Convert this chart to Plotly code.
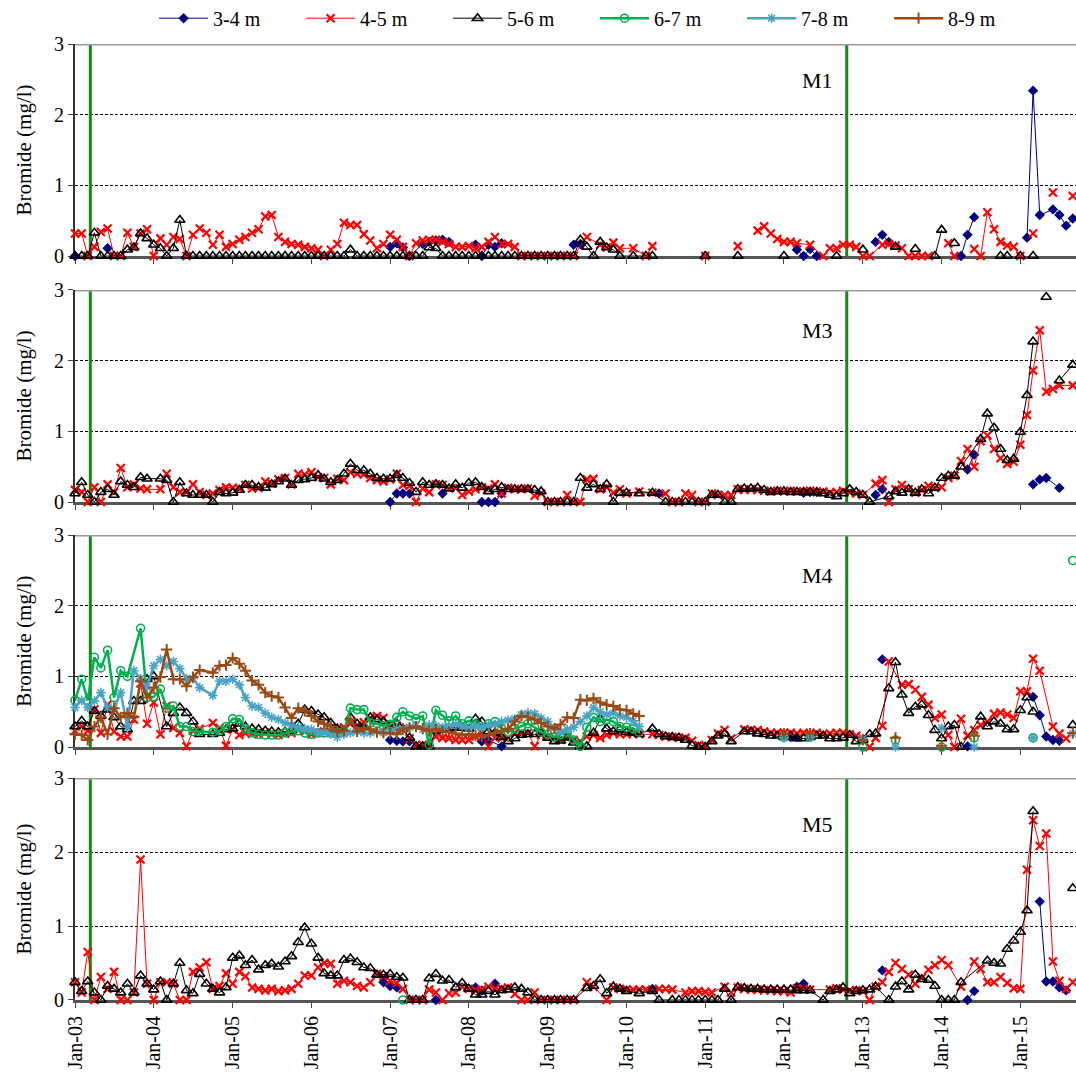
import pandas as pd
import plotly.graph_objects as go

_ = None
FIRST_MONTH = "2003-01-01"
X_END = "2015-09-16"

# Each series is a list of runs: (month offset from Jan 2003, monthly values).
# Values inside a run are joined by a line; separate runs are not.

# ---------------- M1 ----------------
m1_34 = [
    (0, [0]), (5, [0.11]),
    (48, [0.13, 0.18, 0.12, 0, _, 0.17, 0.20, 0.22, 0.23, 0.20]),
    (61, [0.16, 0, 0.16, 0.13, 0.18]),
    (76, [0.16, 0.17]),
    (110, [0.09, 0, 0.10, 0]),
    (122, [0.20, 0.30, 0.20]),
    (135, [0, 0.30, 0.55]),
    (145, [0.26, 2.34, 0.58, _, 0.66, 0.58, 0.43, 0.53]),
]
m1_45 = [
    (0, [0.32, 0.32, 0, 0.13, 0.34, 0.39, 0, 0, 0.33, 0.13, 0.32, 0.38,
         0, 0.25, 0.16, 0.27, 0.24, 0, 0.30, 0.39, 0.33, 0.16, 0.30, 0.13,
         0.17, 0.23, 0.27, 0.33, 0.38, 0.56, 0.58, 0.27, 0.20, 0.17, 0.16, 0.13,
         0.11, 0.09, 0, 0.09, 0.17, 0.47, 0.44, 0.44, 0.31, 0.22, 0.11, 0.17,
         0.30, 0.23, 0.13, 0, 0.18, 0.22, 0.23, 0.23, 0.20, 0.17, 0.13, 0.13,
         0.14, 0.11, 0.13, 0.20, 0.27, 0.17, 0.17, 0.13, 0, 0, 0, 0,
         0, 0, 0, 0, 0, _, 0.27, _, 0.16, 0.12, 0.19, 0.11,
         _, 0.11, _, 0, 0.14]),
    (96, [0]), (101, [0.14]),
    (104, [0.36, 0.42, 0.32, 0.24, 0.20, 0.20, 0.18, _, 0.16, _, 0, 0.11,
           0.11, 0.16, 0.16, 0.13, 0, 0, _, 0.16, 0.17, 0.15, 0.11, 0, 0, 0, 0]),
    (133, [0.18, 0]),
    (137, [0.10, 0, 0.62, 0.38, 0.20, 0.15, 0.13, 0]),
    (146, [0.32]), (149, [0.90]), (152, [0.85]),
]
m1_56 = [
    (0, [0, 0, 0, 0.33, 0, 0, 0, 0, 0.09, 0.12, 0.32, 0.25,
         0.16, 0.11, 0, 0.11, 0.51, 0, 0, 0, 0, 0, 0, 0,
         0, 0, 0, 0, 0, 0, 0, 0, 0, 0, 0, 0,
         0, 0, 0, 0, 0, 0, 0.09, 0, 0, 0, 0, 0,
         0, 0, 0, 0, 0, 0, 0.12, 0.11, 0, 0, 0, 0,
         0, 0, 0, 0, 0, 0, 0, 0, 0, 0, 0, 0,
         0, 0, 0, 0, 0, 0.23, 0.13, 0, 0.20, 0.12, 0.09, 0,
         _, 0, _, 0, 0]),
    (96, [0]), (101, [0]), (108, [0]), (116, [0]), (120, [0.09]),
    (125, [0.13]), (128, [0.10]), (131, [0, 0.37]), (134, [0.18]),
    (141, [0, 0]), (144, [0]), (146, [0]),
]

# ---------------- M3 ----------------
m3_34 = [
    (48, [0, 0.12, 0.12, 0.12]), (56, [0.12]), (62, [0, 0, 0, 0.12]),
    (89, [0.12]), (111, [0.13, 0.14, 0.14]), (122, [0.10, 0.18]),
    (136, [0.46, 0.67]), (146, [0.25, 0.32, 0.34, _, 0.20]),
]
m3_45 = [
    (0, [0.17, 0.14, 0, 0.21, 0, 0.25, 0.14, 0.48, 0.21, 0.25, 0.19, 0.18,
         _, 0.18, 0.40, 0.21, 0.14, 0.14, 0.25, 0.14, 0.10, 0.12, 0.17, 0.21,
         0.20, 0.19, 0.24, 0.19, 0.20, 0.29, 0.26, 0.32, 0.34, 0.25, 0.40, 0.39,
         0.42, 0.35, 0.34, 0.25, 0.33, 0.31, 0.42, 0.40, 0.39, 0.34, 0.31, 0.29,
         0.32, 0.40, 0.24, 0.23, 0, 0.19, 0.14, 0.25, 0.24, 0.19, 0.20, 0.10,
         0.15, 0.18, 0.21, 0.19, 0.25, 0.12, 0.20, 0.18, 0.18, 0.19, 0.09, 0.12,
         0, 0, 0, 0.10, 0, 0, 0.32, 0.33, 0.18, 0.21, 0.13, 0.18,
         0.12, _, 0.15, _, 0.13, _, 0.12, 0, 0, 0.12, 0.10, 0,
         0, 0.12, 0.10, 0.10, 0.10, 0.18, 0.17, 0.18, 0.17, 0.16, 0.15, 0.16,
         0.15, 0.16, 0.15, 0.15, 0.16, 0.14, 0.15, 0.13, 0.14, 0.16, 0.14, 0.12,
         0.10, _, 0.26, 0.31, 0, 0.18, 0.24, 0.18, 0.13, 0.17, 0.23, 0.20,
         0.21, 0.34, 0.37, 0.58, 0.75, 0.50, 0.86, 0.94, 0.75, 0.62, 0.54, 0.57,
         0.81, 1.23, 1.86, 2.43, 1.56, 1.60, 1.65, _, 1.65]),
]
m3_56 = [
    (0, [0.12, 0.28, 0.10, 0, 0.14, 0.18, 0.10, 0.29, 0.24, 0.21, 0.35, 0.33,
         _, 0.33, 0.31, 0, 0.28, 0.12, 0.10, 0.10, 0.10, 0, 0.14, 0.12,
         0.13, 0.17, 0.24, 0.24, 0.21, 0.20, 0.25, 0.29, 0.33, 0.24, 0.31, 0.32,
         0.34, 0.38, 0.33, 0.28, 0.31, 0.40, 0.54, 0.45, 0.45, 0.40, 0.34, 0.33,
         0.33, 0.38, 0.34, 0.27, 0.14, 0.28, 0.24, 0.25, 0.24, 0.19, 0.25, 0.20,
         0.27, 0.28, 0.21, 0.15, 0.18, 0.21, 0.18, 0.18, 0.18, 0.18, 0.17, 0.15,
         0, 0, 0, 0, 0, 0.34, 0.20, 0.25, 0.18, 0.25, 0, 0.13,
         0.13, _, 0.12, _, 0.13, _, 0, 0, 0, 0, 0, 0,
         0, 0.10, 0.10, 0, 0, 0.18, 0.19, 0.19, 0.20, 0.17, 0.14, 0.15,
         0.15, 0.14, 0.14, 0.14, 0.14, 0.14, 0.12, 0.10, 0.08, 0.12, 0.18, 0.14,
         0.10, 0, _, _, 0.08, 0.15, 0.13, 0.18, 0.13, 0.18, 0.12, 0.20,
         0.34, 0.37, 0.37, 0.50, _, _, 0.89, 1.25, 1.05, 0.75, 0.59, 0.61,
         0.99, 1.51, 2.27]),
    (148, [2.90]),
    (150, [1.72, _, 1.94]),
]

# ---------------- M4 ----------------
m4_34 = [
    (48, [0.10, 0.09, 0.08, 0.08]), (62, [0.08, 0.10, _, 0.01]),
    (109, [0.14, 0.14]), (123, [1.24]), (136, [0.01]),
    (146, [0.71, 0.45, 0.15, 0.10, 0.09]),
]
m4_45 = [
    (0, [0.23, 0.29, 0.23, 0.53, 0.20, 0.60, 0.22, 0.15, 0.15, 0.39, 0.90, 0.33,
         0.63, 0.18, 0.58, 0.27, 0.20, 0.01, 0.23, 0.26, _, 0.34, 0.27, 0.02,
         0.25, 0.17, 0.20, 0.19, 0.18, 0.20, 0.18, 0.17, 0.19, 0.20, 0.24, 0.22,
         0.18, 0.20, 0.22, 0.21, 0.25, 0.28, 0.33, 0.30, 0.35, 0.41, 0.44, 0.41,
         0.32, 0.30, 0.25, 0.12, 0.03, 0.03, 0.03, 0.15, 0.13, 0.12, 0.10, 0.10,
         0.10, 0.15, 0.20, 0.01, 0.13, 0.13, 0.13, 0.20, 0.20, 0.20, 0.01, 0.17,
         0.15, 0.13, 0.10, 0.13, 0.10, 0.08, 0.15, 0.17, 0.13, 0.17, 0.20, 0.18,
         0.18, 0.20, 0.18, _, 0.18, 0.17, 0.15, 0.14, 0.13, 0.13, 0.09, 0.03,
         0.02, 0.10, 0.19, 0.24, 0.12, _, 0.25, 0.24, 0.24, 0.22, 0.20, 0.20,
         0.20, 0.20, 0.19, 0.20, 0.19, 0.20, 0.18, 0.19, 0.20, 0.20, 0.18, 0.16,
         0.12, 0, 0.13, 0.30, 1.21, _, 0.88, 0.89, 0.81, 0.71, 0.60, 0.41,
         0.46, 0.17, 0, 0.40, 0.16, 0.24, 0.31, 0.36, 0.47, 0.49, 0.46, 0.41,
         0.79, 0.79, 1.25, 1.08, _, 0.29, 0.19, 0.12]),
]
m4_56 = [
    (0, [0.29, 0.37, 0.29, 0.51, 0.44, 0.53, 0.42, 0.29, 0.25, 0.65, 0.65, 0.96,
         1.00, _, 0.29, 0.48, 0.56, 0.48, 0.36, 0.18, _, 0.18, 0.20, 0.25,
         0.26, 0.33, 0.29, 0.26, 0.25, 0.23, 0.22, 0.21, 0.22, 0.23, 0.33, 0.53,
         0.51, 0.46, 0.42, 0.34, 0.26, 0.22, 0.42, 0.33, 0.27, 0.42, 0.39, 0.36,
         0.29, 0.33, 0.26, 0.13, 0.01, 0.01, 0.01, 0.23, 0.25, 0.26, 0.28, 0.27,
         0.26, 0.40, 0.36, 0.22, 0.20, 0.14, 0.08, 0.12, 0.17, 0.18, 0.18, 0.20,
         0.13, 0.08, 0.09, 0.13, 0.06, 0.01, 0.01, 0.20, 0.40, 0.26, 0.22, 0.25,
         0.21, 0.20, 0.18, _, 0.26, 0.18, 0.15, 0.14, 0.13, 0.10, 0.02, 0,
         0, 0.08, 0.16, 0.19, 0.08, _, 0.22, 0.22, 0.19, 0.18, 0.16, 0.16,
         0.14, 0.16, 0.12, 0.12, 0.14, 0.16, 0.16, 0.12, 0.12, 0.13, 0.17, 0.08,
         0.10, 0.18, 0.19, _, 0.83, 1.20, 0.74, 0.48, 0.57, 0.60, 0.45, 0.24,
         0.12, 0.29, 0.31, 0, _, _, 0.43, 0.29, 0.36, 0.33, 0.25, 0.25,
         0.52, 0.70, 0.50]),
    (152, [0.31]),
]
m4_67 = [
    (0, [0.66, 0.96, 0.66, 1.27, 1.12, 1.37, 0.70, 1.08, 1.00, _, 1.68, 0.70,
         0.71, 0.82, 0.55, 0.58, 0.29, 0.29, 0.22, 0.22, _, 0.21, 0.23, 0.29,
         0.40, 0.39, 0.26, 0.20, 0.18, 0.17, 0.17, 0.17, 0.20, 0.22, 0.23, 0.20,
         0.18, 0.20, 0.20, 0.20, 0.21, 0.22, 0.55, 0.53, 0.53, 0.34, 0.33, 0.30,
         0.32, 0.42, 0.50, 0.44, 0.40, 0.44, 0.03, 0.52, 0.45, 0.37, 0.44, 0.33,
         0.37, 0.32, 0.28, 0.33, 0.36, 0.26, 0.21, 0.26, 0.29, 0.33, 0.28, 0.21,
         0.18, 0.14, 0.18, 0.21, 0.10, 0.01, 0.28, 0.42, 0.36, 0.39, 0.36, 0.29,
         0.28, 0.26, 0.21]),
    (108, [0.14]), (112, [0.14]), (120, [0]), (125, [0.10]), (132, [0]),
    (137, [0.13]), (146, [0.13]), (152, [2.64]),
]
m4_78 = [
    (0, [0.56, 0.66, 0.56, 0.65, 0.77, 0.56, 0.55, 0.77, 0.28, 1.08, 0.97, 0.85,
         1.15, 1.24, 1.15, 1.21, 1.11, 0.97, 0.97, 0.84, _, 0.73, 0.93, 0.93,
         0.96, 0.88, 0.70, 0.58, 0.56, 0.48, 0.42, 0.39, 0.34, 0.31, 0.28, 0.26,
         0.25, 0.20, 0.20, 0.18, 0.14, 0.18, 0.20, 0.22, 0.20, 0.20, 0.22, 0.20,
         0.22, 0.26, 0.26, 0.28, 0.30, 0.25, 0.31, 0.30, 0.28, 0.30, 0.32, 0.29,
         0.27, 0.30, 0.28, 0.31, 0.32, 0.36, 0.38, 0.40, 0.46, 0.48, 0.47, 0.41,
         0.36, 0.27, 0.21, 0.25, 0.28, 0.36, 0.44, 0.56, 0.50, 0.46, 0.48, 0.44,
         0.42, 0.37, 0.29]),
    (108, [0.13]), (112, [0.14]), (120, [0.12]), (125, [0]), (132, [0.27]),
    (137, [0]), (146, [0.13]), (152, [0.19]),
]
m4_89 = [
    (0, [0.18, 0.17, 0.10, 0.29, 0.42, 0.18, 0.55, 0.42, 0.48, 0.42, 0.93, 0.70,
         0.84, 0.99, 1.38, 0.96, 0.96, 0.86, 0.99, 1.09, _, 1.05, 1.15, 1.16,
         1.26, 1.18, 1.08, 0.94, 0.88, 0.77, 0.72, 0.70, 0.56, 0.41, 0.55, 0.51,
         0.44, 0.36, 0.33, 0.29, 0.22, 0.23, 0.39, 0.22, 0.27, 0.25, 0.21, 0.20,
         0.20, 0.18, 0.25, 0.27, 0.29, 0.26, 0.23, 0.25, 0.22, 0.21, 0.19, 0.17,
         0.18, 0.16, 0.15, 0.17, 0.20, 0.23, 0.26, 0.36, 0.44, 0.42, 0.39, 0.34,
         0.29, 0.26, 0.32, 0.42, 0.41, 0.67, 0.66, 0.69, 0.63, 0.60, 0.58, 0.53,
         0.52, 0.47, 0.44]),
    (108, [0.19]), (112, [0.19]), (120, [0.10]), (125, [0.13]), (132, [0.02]),
    (137, [0.16]), (152, [0.20]),
]

# ---------------- M5 ----------------
m5_34 = [
    (47, [0.24, 0.19, 0.17]), (55, [0]), (61, [0.17, 0.13, _, 0.22]),
    (88, [0.15]), (110, [0.18, 0.22]), (123, [0.40]), (136, [0, 0.12]),
    (147, [1.33, 0.25, 0.25, 0.17, 0.13]),
]
m5_45 = [
    (0, [0.24, 0.10, 0.65, 0, 0.31, 0.15, 0.38, 0, 0, 0.10, 1.90, 0.22,
         0, 0.24, 0.24, 0.22, 0, 0, 0.38, 0.44, 0.51, 0.15, 0.19, 0.36,
         0.22, 0.38, 0.32, 0.17, 0.15, 0.13, 0.15, 0.12, 0.13, 0.15, 0.22, 0.33,
         0.33, 0.44, 0.50, 0.49, 0.22, 0.26, 0.24, 0.19, 0.17, 0.24, 0.35, 0.32,
         0.26, 0.23, 0.15, 0, 0, 0, 0.14, 0.10, 0, 0.09, 0.10, 0.18,
         0.15, 0.13, 0.14, 0.18, 0.15, 0.16, 0.17, 0.08, 0, 0, 0.10, 0,
         0, 0, 0, 0, 0, _, 0.24, 0.18, _, 0, 0.17, 0.15,
         0.14, 0.14, 0.14, 0.14, _, 0.15, 0.15, 0.14, _, 0.10, 0.12, 0.12,
         0.11, 0.10, _, 0.18, 0.10, 0.17, 0.15, 0.14, 0.14, 0.13, 0.13, 0.12,
         0.12, 0.10, 0.16, 0.15, 0.14, _, _, 0.14, 0.16, 0.14, 0.13, 0.13,
         0.12, 0, 0.18, 0.24, 0.38, 0.50, 0.42, 0.34, 0.22, 0.30, 0.41, 0.47,
         0.54, 0.47, _, 0.18, _, 0.52, 0.42, 0.24, 0.24, 0.31, 0.23, 0.16,
         0.15, 1.76, 2.43, 2.08, 2.25, 0.52, 0.26, 0.15, 0.24]),
]
m5_56 = [
    (0, [0.24, 0.12, 0.25, 0.10, 0, 0.19, 0.15, 0.10, 0.22, 0.10, 0.33, 0.22,
         0.14, 0.25, 0, 0.22, 0.50, 0.13, 0.09, 0.35, 0.22, 0.15, 0.10, 0.17,
         0.57, 0.60, 0.47, 0.54, 0.41, 0.47, 0.49, 0.45, 0.52, 0.59, 0.78, 0.98,
         0.76, 0.57, 0.36, 0.33, 0.33, 0.54, 0.56, 0.51, 0.44, 0.43, 0.34, 0.34,
         0.35, 0.31, 0.30, 0, 0, 0, 0.29, 0.35, 0.26, 0.27, 0.17, 0.23,
         0.15, 0.07, 0.07, 0.12, 0.07, 0.13, 0.14, 0.17, 0.15, 0.10, 0, 0,
         0, 0, 0, 0, 0, _, 0.16, 0.19, 0.28, 0.09, 0.18, 0.15,
         0.12, _, 0.09, _, 0.12, 0, _, 0, 0, 0, 0, 0,
         0, 0, 0, 0.15, 0, 0.17, 0.16, 0.15, 0.15, 0.14, 0.14, 0.14,
         0.14, 0.14, 0.13, 0.13, 0.13, _, 0, 0.12, 0.14, 0.17, 0.09, 0.12,
         0.13, 0.14, 0.18, _, 0, 0.18, 0.25, 0.14, 0.34, 0.28, 0.27, 0.19,
         0, 0, 0, 0.24, _, _, _, 0.53, 0.50, 0.49, 0.69, 0.80,
         0.92, 1.21, 2.55]),
    (152, [1.51]),
]
m5_67 = [(50, [0])]

SERIES_NAMES = ["3-4 m", "4-5 m", "5-6 m", "6-7 m", "7-8 m", "8-9 m"]
PANEL_LABELS = ["M1", "M3", "M4", "M5"]
PANELS = [
    {"3-4 m": m1_34, "4-5 m": m1_45, "5-6 m": m1_56},
    {"3-4 m": m3_34, "4-5 m": m3_45, "5-6 m": m3_56},
    {"3-4 m": m4_34, "4-5 m": m4_45, "5-6 m": m4_56,
     "6-7 m": m4_67, "7-8 m": m4_78, "8-9 m": m4_89},
    {"3-4 m": m5_34, "4-5 m": m5_45, "5-6 m": m5_56, "6-7 m": m5_67},
]
LABEL_Y = [2.48, 2.42, 2.42, 2.37]
TRACER_DATES = ["2003-03-13", "2012-10-18"]

FONT = "Liberation Serif, Times New Roman, serif"
STYLE = {
    "3-4 m": dict(line=dict(color="#000080", width=1),
                  marker=dict(symbol="diamond", size=8, color="#000080",
                              line=dict(width=0))),
    "4-5 m": dict(line=dict(color="#ff0000", width=1),
                  marker=dict(symbol="x-thin", size=8, color="#ff0000",
                              line=dict(width=2.2, color="#ff0000"))),
    "5-6 m": dict(line=dict(color="#000000", width=1),
                  marker=dict(symbol="triangle-up-open", size=9, color="#000000",
                              line=dict(width=1.6, color="#000000"))),
    "6-7 m": dict(line=dict(color="#00b050", width=2.5),
                  marker=dict(symbol="circle-open", size=8, color="#00b050",
                              line=dict(width=1.6, color="#00b050"))),
    "7-8 m": dict(line=dict(color="#4aa3c4", width=2.5),
                  marker=dict(symbol="asterisk", size=8, color="#4aa3c4",
                              line=dict(width=1.6, color="#4aa3c4"))),
    "8-9 m": dict(line=dict(color="#9a4a14", width=2.5),
                  marker=dict(symbol="cross-thin", size=8, color="#9a4a14",
                              line=dict(width=2, color="#9a4a14"))),
}

base = pd.Timestamp(FIRST_MONTH)


def run_dates(start, n):
    return [base + pd.DateOffset(months=start + k) for k in range(n)]


# panel vertical extents (paper fractions)
DOMAINS = [(0.7782, 1.0), (0.5209, 0.7427), (0.2646, 0.4864), (0.0, 0.2322)]

fig = go.Figure()
shown = set()
for p, panel in enumerate(PANELS):
    ax = "" if p == 0 else str(p + 1)
    for rank, name in enumerate(SERIES_NAMES):
        if name not in panel:
            continue
        for start, vals in panel[name]:
            st = STYLE[name]
            fig.add_trace(go.Scatter(
                x=run_dates(start, len(vals)), y=vals,
                mode="lines+markers", connectgaps=True,
                name=name, legendgroup=name, legendrank=rank + 1,
                showlegend=name not in shown,
                line=st["line"], marker=st["marker"],
                cliponaxis=False,
                xaxis="x" + ax, yaxis="y" + ax,
            ))
            shown.add(name)

layout = dict(
    width=1076, height=1084,
    margin=dict(l=75, r=0, t=44, b=84, autoexpand=False),
    paper_bgcolor="white", plot_bgcolor="white",
    font=dict(family=FONT, size=20, color="black"),
    legend=dict(orientation="h", traceorder="normal",
                x=0.079, y=1.027, xanchor="left", yanchor="middle",
                entrywidth=83, entrywidthmode="pixels",
                font=dict(family=FONT, size=20), itemwidth=49,
                bgcolor="rgba(0,0,0,0)"),
    shapes=[], annotations=[],
)

for p in range(4):
    ax = "" if p == 0 else str(p + 1)
    lo, hi = DOMAINS[p]
    layout["xaxis" + ax] = dict(
        domain=[0, 1], anchor="y" + ax, type="date",
        range=[FIRST_MONTH, X_END],
        tick0=FIRST_MONTH, dtick="M12", tickformat="%b-%y",
        showticklabels=(p == 3), tickangle=-90,
        tickfont=dict(family=FONT, size=20),
        ticks="outside", ticklen=5, tickwidth=1.2, tickcolor="#444",
        showgrid=False, zeroline=False,
        showline=True, linecolor="#555555", linewidth=3,
        layer="below traces",
    )
    if p > 0:
        layout["xaxis" + ax]["matches"] = "x"
    layout["yaxis" + ax] = dict(
        domain=[lo, hi], anchor="x" + ax, range=[0, 3],
        tickvals=[0, 1, 2, 3], ticks="outside", ticklen=5, tickwidth=1.2,
        tickcolor="#444", tickfont=dict(family=FONT, size=20),
        showgrid=True, gridcolor="#000000", gridwidth=0.8, griddash="3px,2px",
        zeroline=False, showline=True, linecolor="#333333", linewidth=2,
        layer="below traces",
        title=dict(text="Bromide (mg/l)", font=dict(family=FONT, size=21),
                   standoff=17),
    )
    # gray frame line along the top of each panel
    layout["shapes"].append(dict(
        type="line", xref="x" + ax + " domain", yref="y" + ax,
        x0=0, x1=1, y0=3, y1=3, line=dict(color="#9b9b9b", width=3),
        layer="above"))
    # tracer application dates
    for d in TRACER_DATES:
        layout["shapes"].append(dict(
            type="line", xref="x" + ax, yref="y" + ax,
            x0=d, x1=d, y0=0, y1=3, line=dict(color="#128a12", width=3),
            layer="between"))
    layout["annotations"].append(dict(
        text=PANEL_LABELS[p], xref="x" + ax, yref="y" + ax,
        x="2012-08-25", y=LABEL_Y[p], xanchor="right", yanchor="middle",
        showarrow=False, font=dict(family=FONT, size=22)))

fig.update_layout(**layout)
fig.write_html("out.html")
